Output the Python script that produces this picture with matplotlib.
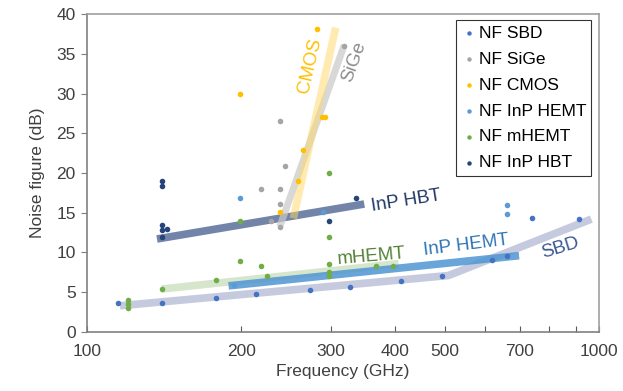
import matplotlib
matplotlib.use("Agg")
import matplotlib.pyplot as plt
from matplotlib.ticker import FixedLocator, FixedFormatter, NullLocator

plt.rcParams['font.family'] = ['Liberation Sans', 'DejaVu Sans']

# measured points (frequency GHz, noise figure dB)
sbd_f = [115, 140, 179, 214, 273, 327, 411, 493, 618, 661, 739, 912]
sbd_nf = [3.7, 3.7, 4.3, 4.8, 5.3, 5.7, 6.4, 7.0, 9.0, 9.6, 14.3, 14.2]

sige_f = [219, 229, 238, 238, 238, 238, 244, 317]
sige_nf = [18.0, 14.0, 26.5, 18.0, 16.1, 13.2, 20.9, 36.0]

cmos_f = [199, 238, 258, 264, 288, 292, 281]
cmos_nf = [29.9, 15.1, 19.0, 22.9, 27.0, 27.0, 38.1]

hemt_f = [194, 199, 289, 661, 661]
hemt_nf = [5.9, 16.9, 15.1, 16.0, 14.9]

mhemt_f = [120, 120, 120, 140, 179, 199, 199, 219, 225, 297, 297, 297, 297, 297, 367, 396]
mhemt_nf = [4.0, 3.5, 3.0, 5.4, 6.5, 8.9, 13.9, 8.3, 7.0, 20.0, 11.9, 8.55, 7.6, 7.0, 8.35, 8.35]

hbt_f = [140, 140, 140, 140, 143, 140, 297, 335]
hbt_nf = [19.0, 18.4, 13.5, 12.8, 13.0, 11.9, 14.0, 16.9]

# trend bands
sbd_trend_f = [116, 508, 966]
sbd_trend_nf = [3.3, 7.1, 14.2]
hemt_trend_f = [189, 698]
hemt_trend_nf = [5.8, 9.6]
mhemt_trend_f = [140, 406]
mhemt_trend_nf = [5.4, 8.6]
hbt_trend_f = [137, 348]
hbt_trend_nf = [11.7, 16.1]
sige_trend_f = [238, 318]
sige_trend_nf = [13.25, 36.1]
cmos_trend_f = [253, 306]
cmos_trend_nf = [14.3, 38.3]

tick_vals = [100, 200, 300, 400, 500, 600, 700, 800, 900, 1000]
tick_labels = ['100', '200', '300', '400', '500', '', '700', '', '', '1000']

fig = plt.figure(figsize=(6.23, 3.91), dpi=100)
ax = fig.add_axes([0.1396, 0.151, 0.8219, 0.813])

# bands first
ax.plot(sbd_trend_f, sbd_trend_nf, color='#c5cade', lw=5.5, solid_capstyle='butt', zorder=1)
ax.plot(mhemt_trend_f, mhemt_trend_nf, color='#d6e6cc', lw=5.5, solid_capstyle='butt', zorder=1)
ax.plot(hemt_trend_f, hemt_trend_nf, color='#4f95d2', lw=5.5, alpha=0.85, solid_capstyle='butt', zorder=1)
ax.plot(hbt_trend_f, hbt_trend_nf, color='#5a6e9a', lw=5.5, alpha=0.85, solid_capstyle='butt', zorder=1)
ax.plot(sige_trend_f, sige_trend_nf, color='#c8c8c8', lw=5, alpha=0.7, solid_capstyle='butt', zorder=1)
ax.plot(cmos_trend_f, cmos_trend_nf, color='#ffd966', lw=5.5, alpha=0.5, solid_capstyle='butt', zorder=1)

s = 16
ax.scatter(sbd_f, sbd_nf, s=s, color='#4472c4', label='NF SBD', zorder=3, linewidths=0)
ax.scatter(sige_f, sige_nf, s=s, color='#a5a5a5', label='NF SiGe', zorder=3, linewidths=0)
ax.scatter(cmos_f, cmos_nf, s=s, color='#ffc000', label='NF CMOS', zorder=3, linewidths=0)
ax.scatter(hemt_f, hemt_nf, s=s, color='#5b9bd5', label='NF InP HEMT', zorder=3, linewidths=0)
ax.scatter(mhemt_f, mhemt_nf, s=s, color='#70ad47', label='NF mHEMT', zorder=3, linewidths=0)
ax.scatter(hbt_f, hbt_nf, s=s, color='#264478', label='NF InP HBT', zorder=3, linewidths=0)

# band labels
ax.text(273, 33.5, 'CMOS', color='#ffc000', fontsize=13.5, rotation=77, ha='center', va='center')
ax.text(332, 34.0, 'SiGe', color='#8c8c8c', fontsize=13.5, rotation=70, ha='center', va='center')
ax.text(420, 16.5, 'InP HBT', color='#203864', fontsize=13.5, rotation=9, ha='center', va='center')
ax.text(360, 9.5, 'mHEMT', color='#548235', fontsize=13.5, rotation=5, ha='center', va='center')
ax.text(549, 10.9, 'InP HEMT', color='#2e75b6', fontsize=13.5, rotation=7, ha='center', va='center')
ax.text(840, 10.6, 'SBD', color='#3a5795', fontsize=13.5, rotation=17, ha='center', va='center')

ax.set_xscale('log')
ax.set_xlim(100, 1000)
ax.set_ylim(0, 40)
ax.xaxis.set_major_locator(FixedLocator(tick_vals))
ax.xaxis.set_major_formatter(FixedFormatter(tick_labels))
ax.xaxis.set_minor_locator(NullLocator())
ax.set_yticks(range(0, 41, 5))
ax.tick_params(axis='x', direction='in', length=4, color='#595959', labelsize=12.5, pad=9)
ax.tick_params(axis='y', direction='out', length=4, color='#7f7f7f', labelsize=12.5, pad=4)
ax.set_xlabel('Frequency (GHz)', fontsize=12.5, color='#404040', labelpad=3)
ax.set_ylabel('Noise figure (dB)', fontsize=12.5, color='#404040', labelpad=8)
for lbl in ax.get_xticklabels() + ax.get_yticklabels():
    lbl.set_color('#404040')

for side in ['left', 'bottom']:
    ax.spines[side].set_color('#808080')
    ax.spines[side].set_linewidth(1.2)
for side in ['top', 'right']:
    ax.spines[side].set_color('#a0a0a0')
    ax.spines[side].set_linewidth(1.2)

leg = ax.legend(loc='upper right', fontsize=12.5, frameon=True, fancybox=False,
                edgecolor='black', handletextpad=0.1, handlelength=0.9,
                borderpad=0.3, labelspacing=0.62, markerscale=0.8,
                borderaxespad=0, bbox_to_anchor=(0.985, 0.98))
leg.get_frame().set_linewidth(0.8)

fig.savefig('out.png', dpi=100)
